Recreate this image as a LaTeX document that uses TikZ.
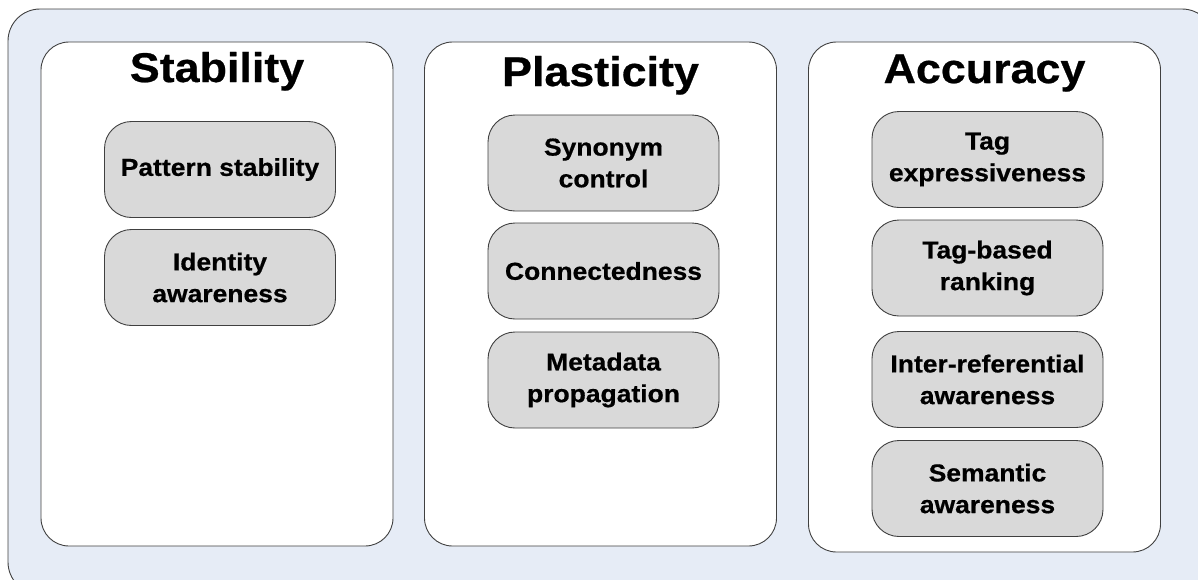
\documentclass[tikz,border=0pt]{standalone}
\usepackage{fontspec}
\setmainfont{Liberation Sans}[FakeStretch=1.08, BoldFeatures={FakeBold=0.6}]
\definecolor{bgblue}{RGB}{230,236,246}
\definecolor{itemgray}{RGB}{217,217,217}
\definecolor{edgegray}{RGB}{64,64,64}

\begin{document}
\begin{tikzpicture}[
		x=1pt, y=-1pt,
		panel/.style = {
			draw=edgegray, fill=white, rectangle,
			rounded corners=28pt, line width=0.9pt,
			minimum width=352pt, inner sep=0pt
		},
		item/.style = {
			draw=edgegray, fill=itemgray, rectangle,
			rounded corners=27pt, line width=0.9pt,
			minimum width=231pt, minimum height=96pt,
			inner sep=0pt, align=center,
			font=\fontsize{24.5}{31.7}\selectfont\bfseries
		},
		heading/.style = {
			anchor=base, inner sep=0pt,
			font=\fontsize{41.5}{50}\selectfont\bfseries
		}
		]
		\useasboundingbox (0,0) rectangle (1198,579);
		\clip (0,0) rectangle (1198,579);
		%\draw (0,0) grid[step=100] (1198,579);
		\draw[fill=bgblue, draw=edgegray, rounded corners=32pt, line width=0.9pt] (8,9) rectangle (1214,594);
		
		\node[panel, minimum height=504pt] (stab) at (217, 294) {};
		\node[panel, minimum height=504pt] (plas) at (600.5, 294) {};
		\node[panel, minimum height=510pt] (accu) at (984.5, 297) {};
		
		\node[heading] (stabtitle) at (217, 82) {Stability};
		\node[heading] (plastitle) at (600.5, 86) {Plasticity};
		\node[heading] (accutitle) at (984.5, 83) {Accuracy};
		
		\node[item] (pattern) at (220, 169.5) {Pattern stability};
		\node[item] (identity) at (220, 277.5) {Identity\\awareness};
		
		\node[item] (synonym) at (603.5, 163) {Synonym\\control};
		\node[item] (connect) at (603.5, 271) {Connectedness};
		\node[item] (metadata) at (603.5, 380) {Metadata\\propagation};
		
		\node[item] (tagexpr) at (987.5, 159.5) {Tag\\expressiveness};
		\node[item] (tagrank) at (987.5, 268) {Tag-based\\ranking};
		\node[item] (interref) at (987.5, 379.5) {Inter-referential\\awareness};
		\node[item] (semantic) at (987.5, 488.5) {Semantic\\awareness};
	\end{tikzpicture}
\end{document}
